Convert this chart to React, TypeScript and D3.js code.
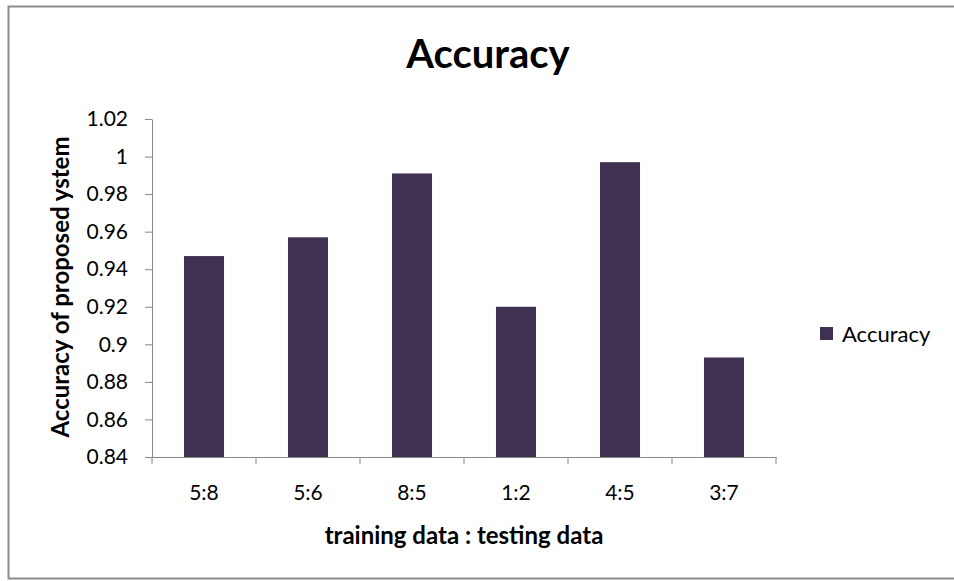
import { useEffect, useRef } from "react";
import * as d3 from "d3";

const categories = ["5:8", "5:6", "8:5", "1:2", "4:5", "3:7"];
const accuracy = [0.947, 0.957, 0.991, 0.92, 0.997, 0.893];
const yTicks = [0.84, 0.86, 0.88, 0.9, 0.92, 0.94, 0.96, 0.98, 1, 1.02];

const WIDTH = 954;
const HEIGHT = 581;
const FONT = "Lato, 'Open Sans', sans-serif";

export default function App() {
  const ref = useRef<SVGSVGElement>(null);

  useEffect(() => {
    const svg = d3.select(ref.current);
    svg.selectAll("*").remove();

    // plot area bounds
    const left = 152, right = 776, top = 119, bottom = 457;

    const x = d3.scaleBand().domain(categories).range([left, right]).paddingInner(0.615).paddingOuter(0.3075);
    const band = d3.scaleBand().domain(categories).range([left, right]);
    const y = d3.scaleLinear().domain([0.84, 1.02]).range([bottom, top]);

    // outer chart border
    svg.append("rect")
      .attr("x", 8.5).attr("y", 6.5)
      .attr("width", 960).attr("height", 572)
      .attr("fill", "white")
      .attr("stroke", "#8c8c8c")
      .attr("stroke-width", 2);

    // title
    svg.append("text")
      .text("Accuracy")
      .attr("x", 488).attr("y", 68)
      .attr("text-anchor", "middle")
      .attr("font-family", FONT)
      .attr("font-weight", "bold")
      .attr("font-size", 40)
      .attr("fill", "#000");

    // bars
    svg.selectAll("rect.bar")
      .data(accuracy)
      .join("rect")
      .attr("class", "bar")
      .attr("x", (_, i) => x(categories[i])!)
      .attr("y", (d) => y(d))
      .attr("width", x.bandwidth())
      .attr("height", (d) => bottom - y(d))
      .attr("fill", "#3f3151");

    // y axis
    const yAxis = svg.append("g").attr("transform", `translate(${left},0)`)
      .call(d3.axisLeft(y).tickValues(yTicks).tickSize(7).tickSizeOuter(0).tickFormat((d) => String(+d)).tickPadding(17));
    yAxis.selectAll("path, line").attr("stroke", "#868686");
    yAxis.selectAll("text")
      .attr("font-family", FONT)
      .attr("font-size", 21)
      .attr("fill", "#000");

    // x axis
    const xAxis = svg.append("g").attr("transform", `translate(0,${bottom})`)
      .call(d3.axisBottom(band).tickSize(0).tickPadding(28));
    xAxis.select(".domain").attr("stroke", "#868686");
    xAxis.selectAll("text")
      .attr("font-family", FONT)
      .attr("font-size", 21)
      .attr("fill", "#000");
    const boundaries = [...categories.map((c) => band(c)!), right];
    xAxis.selectAll("line.sep")
      .data(boundaries)
      .join("line")
      .attr("class", "sep")
      .attr("x1", (d) => d).attr("x2", (d) => d)
      .attr("y1", 0).attr("y2", 7)
      .attr("stroke", "#868686");

    // axis titles
    svg.append("text")
      .text("training data : testing data")
      .attr("x", 464).attr("y", 544)
      .attr("text-anchor", "middle")
      .attr("font-family", FONT)
      .attr("font-weight", "bold")
      .attr("font-size", 24)
      .attr("fill", "#000");

    svg.append("text")
      .text("Accuracy of proposed ystem")
      .attr("transform", `translate(69,${(top + bottom) / 2 - 1}) rotate(-90)`)
      .attr("text-anchor", "middle")
      .attr("font-family", FONT)
      .attr("font-weight", "bold")
      .attr("font-size", 24)
      .attr("fill", "#000");

    // legend
    svg.append("rect")
      .attr("x", 820).attr("y", 327)
      .attr("width", 13).attr("height", 13)
      .attr("fill", "#3f3151");
    svg.append("text")
      .text("Accuracy")
      .attr("x", 842).attr("y", 342)
      .attr("font-family", FONT)
      .attr("font-size", 22)
      .attr("fill", "#000");
  }, []);

  return (
    <svg ref={ref} width={WIDTH} height={HEIGHT}
      style={{ position: "absolute", left: 0, top: 0, background: "white" }} />
  );
}
